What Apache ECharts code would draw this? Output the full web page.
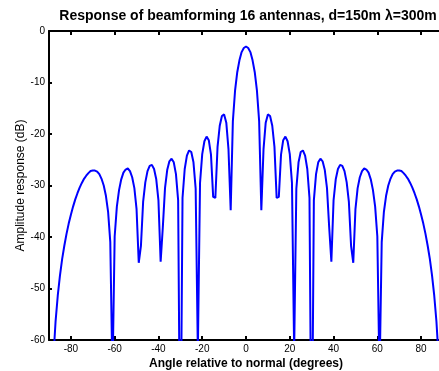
<!DOCTYPE html>
<html>
<head>
<meta charset="utf-8">
<script src="https://cdn.jsdelivr.net/npm/echarts@6/dist/echarts.min.js"></script>
<style>
html,body{margin:0;padding:0;background:#fff;overflow:hidden;}
#chart{width:439px;height:371px;}
</style>
</head>
<body>
<div id="chart"></div>
<script>
// Angle relative to normal (degrees), sampled every degree
const angles = [-90,-89,-88,-87,-86,-85,-84,-83,-82,-81,-80,-79,-78,-77,-76,-75,-74,-73,-72,-71,
-70,-69,-68,-67,-66,-65,-64,-63,-62,-61,-60,-59,-58,-57,-56,-55,-54,-53,-52,-51,
-50,-49,-48,-47,-46,-45,-44,-43,-42,-41,-40,-39,-38,-37,-36,-35,-34,-33,-32,-31,
-30,-29,-28,-27,-26,-25,-24,-23,-22,-21,-20,-19,-18,-17,-16,-15,-14,-13,-12,-11,
-10,-9,-8,-7,-6,-5,-4,-3,-2,-1,0,1,2,3,4,5,6,7,8,9,
10,11,12,13,14,15,16,17,18,19,20,21,22,23,24,25,26,27,28,29,
30,31,32,33,34,35,36,37,38,39,40,41,42,43,44,45,46,47,48,49,
50,51,52,53,54,55,56,57,58,59,60,61,62,63,64,65,66,67,68,69,
70,71,72,73,74,75,76,77,78,79,80,81,82,83,84,85,86,87,88,89,90];

// Amplitude response (dB)
const response = [-90,-75.8,-63.5,-56.4,-51.4,-47.5,-44.3,-41.7,-39.4,-37.4,
-35.7,-34.1,-32.7,-31.5,-30.4,-29.5,-28.7,-28.1,-27.6,-27.2,
-27.1,-27.1,-27.3,-27.8,-28.7,-30.0,-32.0,-35.1,-41.0,-67.4,
-39.9,-34.1,-30.9,-28.8,-27.5,-26.9,-26.7,-27.2,-28.4,-30.5,
-34.6,-45.0,-41.7,-33.2,-29.4,-27.2,-26.2,-26.0,-26.8,-28.8,
-32.9,-44.8,-38.1,-30.5,-27.0,-25.3,-24.8,-25.5,-27.8,-32.9,
-90,-32.4,-26.8,-24.2,-23.2,-23.5,-25.5,-30.6,-62.1,-29.5,
-23.9,-21.4,-20.5,-21.2,-24.0,-32.2,-32.4,-22.5,-18.4,-16.5,
-16.2,-17.8,-23.0,-34.8,-17.5,-11.6,-8.0,-5.7,-4.1,-3.3,
-3.0,
-3.3,-4.1,-5.7,-8.0,-11.6,-17.5,-34.8,-23.0,-17.8,-16.2,
-16.5,-18.4,-22.5,-32.4,-32.2,-24.0,-21.2,-20.5,-21.4,-23.9,
-29.5,-62.1,-30.6,-25.5,-23.5,-23.2,-24.2,-26.8,-32.4,-90,
-32.9,-27.8,-25.5,-24.8,-25.3,-27.0,-30.5,-38.1,-44.8,-32.9,
-28.8,-26.8,-26.0,-26.2,-27.2,-29.4,-33.2,-41.7,-45.0,-34.6,
-30.5,-28.4,-27.2,-26.7,-26.9,-27.5,-28.8,-30.9,-34.1,-39.9,
-67.4,-41.0,-35.1,-32.0,-30.0,-28.7,-27.8,-27.3,-27.1,-27.1,
-27.2,-27.6,-28.1,-28.7,-29.5,-30.4,-31.5,-32.7,-34.1,-35.7,
-37.4,-39.4,-41.7,-44.3,-47.5,-51.4,-56.4,-63.5,-75.8,-90];

const xTicks = [-80,-60,-40,-20,0,20,40,60,80];
const yTicks = [-60,-50,-40,-30,-20,-10,0];

const titleText = 'Response of beamforming 16 antennas, d=150m \u03bb=300m';
const xName = 'Angle relative to normal (degrees)';
const yName = 'Amplitude response (dB)';

const points = angles.map((a, i) => [a, response[i]]);
const FONT = 'Arial, "Liberation Sans", Helvetica, sans-serif';

const chart = echarts.init(document.getElementById('chart'), null, {renderer: 'canvas'});
const axisLineStyle = {color: '#000', width: 2};
chart.setOption({
  animation: false,
  backgroundColor: '#fff',
  graphic: [{
    type: 'text',
    x: 248, y: 16,
    style: {
      text: titleText,
      align: 'center', verticalAlign: 'middle',
      font: 'bold 14px ' + FONT,
      fill: '#000'
    }
  }],
  grid: {left: 49, top: 31, width: 394, height: 309, containLabel: false, outerBoundsMode: 'none'},
  xAxis: [{
    type: 'value', min: -90, max: 90, position: 'bottom',
    name: xName, nameLocation: 'middle', nameGap: 18, nameMoveOverlap: false,
    nameTextStyle: {fontFamily: FONT, fontSize: 12, fontWeight: 'bold', color: '#000'},
    axisLine: {show: true, onZero: false, lineStyle: axisLineStyle},
    axisTick: {show: true, inside: true, length: 4, customValues: xTicks, lineStyle: {color: '#000', width: 2}},
    axisLabel: {customValues: xTicks, fontFamily: FONT, fontSize: 10, color: '#000', margin: 4},
    splitLine: {show: false}
  }, {
    type: 'value', min: -90, max: 90, position: 'top',
    axisLine: {show: true, onZero: false, lineStyle: axisLineStyle},
    axisTick: {show: true, inside: true, length: 4, customValues: xTicks, lineStyle: {color: '#000', width: 2}},
    axisLabel: {show: false},
    splitLine: {show: false}
  }],
  yAxis: [{
    type: 'value', min: -60, max: 0, interval: 10, position: 'left',
    name: yName, nameLocation: 'middle', nameGap: 22, nameRotate: 90, nameMoveOverlap: false,
    nameTextStyle: {fontFamily: FONT, fontSize: 12, fontWeight: 'normal', color: '#000'},
    axisLine: {show: true, onZero: false, lineStyle: axisLineStyle},
    axisTick: {show: true, inside: true, length: 3, lineStyle: {color: '#000', width: 2}},
    axisLabel: {fontFamily: FONT, fontSize: 10, color: '#000', margin: 4},
    splitLine: {show: false}
  }, {
    type: 'value', min: -60, max: 0, interval: 10, position: 'right',
    axisLine: {show: true, onZero: false, lineStyle: axisLineStyle},
    axisTick: {show: true, inside: true, length: 3, lineStyle: {color: '#000', width: 2}},
    axisLabel: {show: false},
    splitLine: {show: false}
  }],
  series: [{
    type: 'line',
    data: points,
    showSymbol: false,
    symbol: 'none',
    clip: true,
    smooth: false,
    lineStyle: {color: '#0000ff', width: 2},
    z: 1
  }]
});
</script>
</body>
</html>
